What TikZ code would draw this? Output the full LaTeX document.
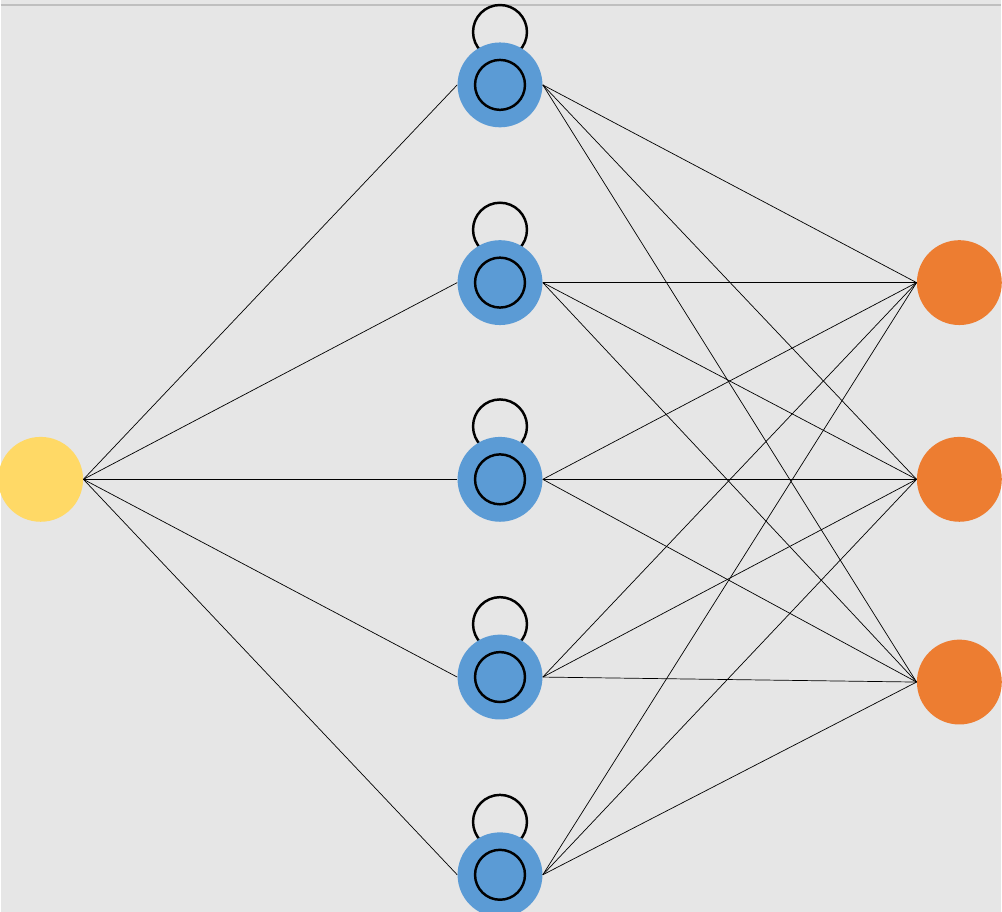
\documentclass[tikz,border=0pt]{standalone}
\usepackage{xcolor}
\usepackage{tikz}
\definecolor{bgGray}{HTML}{E6E6E6}
\definecolor{hidBlue}{HTML}{5B9BD5}
\definecolor{inYellow}{HTML}{FFD966}
\definecolor{outOrange}{HTML}{ED7D31}
\tikzset{
  unit/.style={circle, minimum size=1.7cm, inner sep=0pt},
  inunit/.style={unit, fill=inYellow},
  hidunit/.style={unit, fill=hidBlue},
  outunit/.style={unit, fill=outOrange},
  link/.style={black, line width=0.4pt}
}
\begin{document}
\begin{tikzpicture}[x=0.02cm, y=-0.02cm]

%Background
\fill[bgGray] (0,0) rectangle (1002,913);
\draw[gray!50, line width=0.8pt] (0,5) -- (1002,5);
\useasboundingbox (0,0) rectangle (1002,913);

%Input
\node[inunit] (in) at (40,480) {};

%Hidden with self loops
\foreach \i/\y in {1/85, 2/283, 3/480, 4/678, 5/876} {
  \draw[line width=1.4pt] (500,\y-53) circle (27);
  \node[hidunit] (h\i) at (500,\y) {};
  \draw[line width=1.4pt] (h\i.center) circle (25);
}

%Output
\node[outunit] (o1) at (960,283) {};
\node[outunit] (o2) at (960,480) {};
\node[outunit] (o3) at (960,683) {};

%Links
\foreach \i in {1,...,5} {
  \draw[link] (in.east) -- (h\i.west);
  \foreach \j in {1,2,3}
    \draw[link] (h\i.east) -- (o\j.west);
}

\end{tikzpicture}
\end{document}
